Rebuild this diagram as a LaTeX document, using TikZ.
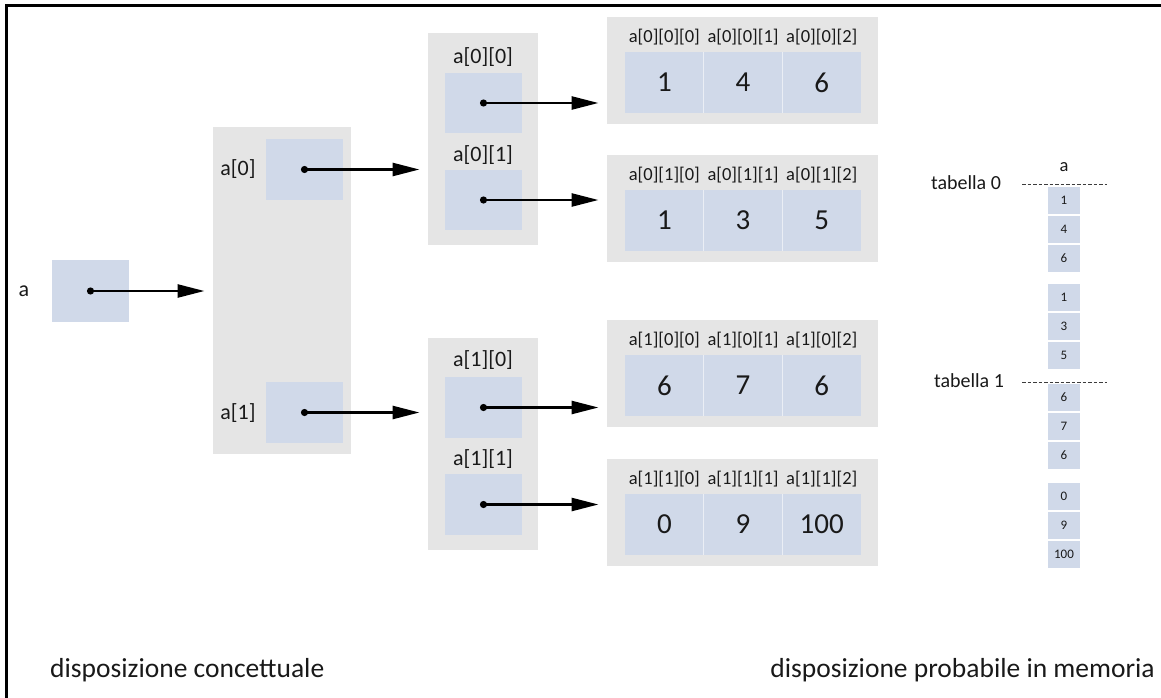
\documentclass[tikz,border=0pt]{standalone}
\usepackage{fontspec}
\setmainfont{Carlito}
\usetikzlibrary{arrows.meta,calc}
\definecolor{graybg}{RGB}{229,229,229}
\definecolor{cellblue}{RGB}{208,217,233}
\definecolor{ink}{RGB}{25,25,25}
\tikzset{
 panel/.style={fill=graybg, draw=none, inner sep=0pt, outer sep=0pt, anchor=north west},
 cell/.style={fill=cellblue, draw=none, inner sep=0pt, outer sep=0pt, anchor=north west},
 lbl/.style={font=\fontsize{22}{26}\selectfont, text=ink, inner sep=0pt},
 idx/.style={font=\fontsize{18.5}{22}\selectfont, text=ink, inner sep=0pt},
 val/.style={font=\fontsize{29}{34}\selectfont, text=ink},
 mval/.style={font=\fontsize{13}{15}\selectfont, text=ink},
 ptr/.style={line width=2.6pt, draw=black, -{Triangle[length=27pt,width=13pt]}, shorten >=8.5pt},
 dotp/.style={fill=black},
 sepline/.style={line width=0.9pt, dash pattern=on 3.5pt off 2pt, draw=ink!85},
 caption/.style={font=\fontsize{27.5}{32}\selectfont, text=ink, inner sep=0pt},
}
\begin{document}
\begin{tikzpicture}[x=1pt,y=-1pt]
\useasboundingbox (0,0) rectangle (1161,698);
% frame
\draw[line width=3pt] (6,710) -- (6,6) -- (1170,6);

% a
\node[lbl] (alab) at (24,291) {a};
\node[cell, minimum width=77pt, minimum height=62pt] (abox) at (52,260) {};

% level 1
\node[panel, minimum width=138pt, minimum height=327pt] (A) at (213,127) {};
\node[lbl] (a0lab) at (238,169) {a[0]};
\node[cell, minimum width=77pt, minimum height=61pt] (a0) at (266,139) {};
\node[lbl] (a1lab) at (238,413) {a[1]};
\node[cell, minimum width=77pt, minimum height=61pt] (a1) at (266,382) {};

% level 2
\node[panel, minimum width=110pt, minimum height=212pt] (B0) at (428,33) {};
\node[lbl] (b00lab) at (483,57) {a[0][0]};
\node[cell, minimum width=77pt, minimum height=60pt] (b00) at (445,73) {};
\node[lbl] (b01lab) at (483,155) {a[0][1]};
\node[cell, minimum width=77pt, minimum height=60pt] (b01) at (445,170) {};

\node[panel, minimum width=110pt, minimum height=212pt] (B1) at (428,338) {};
\node[lbl] (b10lab) at (483,360) {a[1][0]};
\node[cell, minimum width=77pt, minimum height=61pt] (b10) at (445,377) {};
\node[lbl] (b11lab) at (483,459) {a[1][1]};
\node[cell, minimum width=77pt, minimum height=61pt] (b11) at (445,474) {};

% level 3
\foreach \nm/\top/\pre/\va/\vb/\vc in {C00/17/a[0][0]/1/4/6, C01/155/a[0][1]/1/3/5, C10/320/a[1][0]/6/7/6, C11/459/a[1][1]/0/9/100}{
  \node[panel, minimum width=271pt, minimum height=107pt] (\nm) at (607,\top) {};
  \foreach \k/\v in {0/\va,1/\vb,2/\vc}{
    \node[idx] (\nm-l\k) at ({625+78.7*\k+39.35},\top+20) {\pre[\k]};
    \node[cell, val, minimum width=78.7pt, minimum height=61pt] (\nm-v\k) at ({625+78.7*\k},\top+35) {\v};
  }
  \draw[white!55!cellblue, line width=1.2pt] (\nm-v0.north east) -- (\nm-v0.south east);
  \draw[white!55!cellblue, line width=1.2pt] (\nm-v1.north east) -- (\nm-v1.south east);
}

% pointers
\foreach \s/\t in {abox/A, a0/B0, a1/B1, b00/C00, b01/C01, b10/C10, b11/C11}{
  \draw[ptr] (\s.center) -- (\t.west |- \s.center);
  \fill[dotp] (\s.center) circle (3.6pt);
}

% memory layout
\node[idx] (mlab) at (1064,167) {a};
\node[lbl, font=\fontsize{20}{24}\selectfont] (t0) at (966,183) {tabella 0};
\node[lbl, font=\fontsize{20}{24}\selectfont] (t1) at (969,381) {tabella 1};
\foreach \yy/\v [count=\i] in {187/1,216/4,245/6,284/1,313/3,342/5,384/6,413/7,442/6,483/0,512/9,541/100}{
  \node[cell, mval, minimum width=32pt, minimum height=27pt] (m\i) at (1048,\yy) {\v};
}
\draw[sepline] (1022,184) -- (1107,184);
\draw[sepline] (1022,382) -- (1107,382);

% captions
\node[caption, anchor=base west] (cap1) at (50,677) {disposizione concettuale};
\node[caption, anchor=base east] (cap2) at (1155,677) {disposizione probabile in memoria};
\end{tikzpicture}
\end{document}
